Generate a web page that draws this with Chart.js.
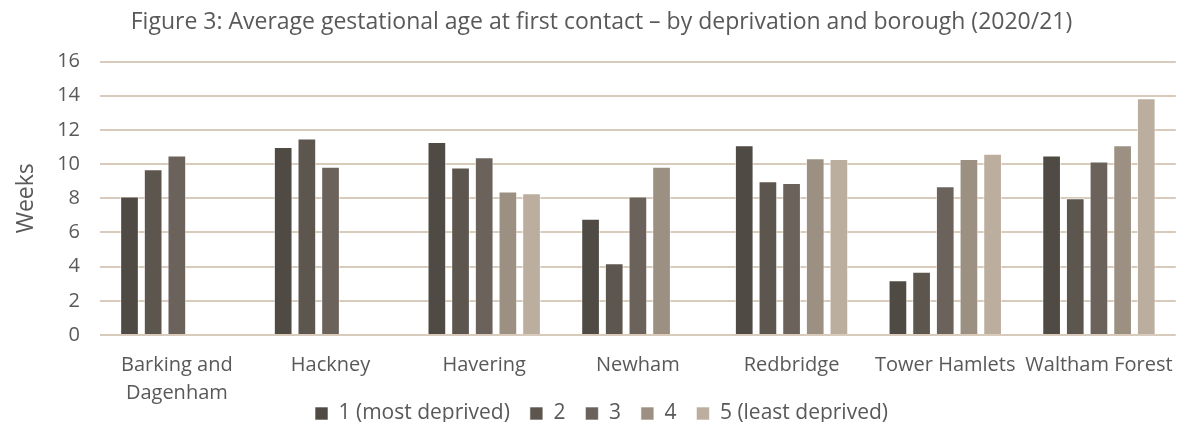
<!DOCTYPE html>
<html>
<head>
<meta charset="utf-8">
<script src="https://cdn.jsdelivr.net/npm/chart.js@4/dist/chart.umd.min.js"></script>
<style>
  html, body { margin: 0; padding: 0; background: #fff; }
  #wrap { width: 1189px; height: 422px; }
</style>
</head>
<body>
<div id="wrap"><canvas id="chart"></canvas></div>
<script>
// Boroughs along the x axis
const boroughs = [
  ['Barking and', 'Dagenham'], 'Hackney', 'Havering', 'Newham',
  'Redbridge', 'Tower Hamlets', 'Waltham Forest'
];

// Average gestational age (weeks) by deprivation quintile
const quintile1 = [8.1, 11.0, 11.3, 6.8, 11.1, 3.2, 10.5];
const quintile2 = [9.7, 11.5, 9.8, 4.2, 9.0, 3.7, 8.0];
const quintile3 = [10.5, 9.85, 10.4, 8.1, 8.9, 8.7, 10.15];
const quintile4 = [null, null, 8.4, 9.85, 10.35, 10.3, 11.1];
const quintile5 = [null, null, 8.3, null, 10.3, 10.6, 13.85];

const seriesNames = ['1 (most deprived)', '2', '3', '4', '5 (least deprived)'];
const seriesColors = ['#4f4a43', '#5d564f', '#6b625b', '#9c9083', '#bcae9e'];
const yTicks = [0, 2, 4, 6, 8, 10, 12, 14, 16];

const textColor = '#595959';
const fontFamily = "'Open Sans', 'Noto Sans', sans-serif";

const allSeries = [quintile1, quintile2, quintile3, quintile4, quintile5];
const datasets = allSeries.map(function (values, i) {
  return {
    label: seriesNames[i],
    data: values,
    backgroundColor: seriesColors[i],
    borderColor: 'rgba(255,255,255,0.6)',
    borderWidth: 1,
    barPercentage: 0.79,
    categoryPercentage: 0.77
  };
});

const ctx = document.getElementById('chart').getContext('2d');
new Chart(ctx, {
  type: 'bar',
  data: { labels: boroughs, datasets: datasets },
  options: {
    responsive: true,
    maintainAspectRatio: false,
    animation: false,
    layout: { padding: { left: 20, right: 6, top: 0, bottom: -12 } },
    plugins: {
      title: {
        display: true,
        text: 'Figure 3: Average gestational age at first contact \u2013 by deprivation and borough (2020/21)',
        color: textColor,
        font: { family: fontFamily, size: 23, weight: 'normal' },
        padding: { top: 9, bottom: 25 }
      },
      legend: {
        position: 'bottom',
        labels: {
          color: textColor,
          font: { family: fontFamily, size: 21 },
          boxWidth: 13,
          boxHeight: 13,
          padding: 20
        }
      },
      tooltip: { enabled: false }
    },
    scales: {
      x: {
        afterFit: function (scale) {
          scale.height = 48;
          // let the two-line label run below the shortened axis box
          scale._computeLabelArea = function () { return undefined; };
        },
        grid: { display: false, drawTicks: false },
        border: { display: false },
        ticks: {
          color: textColor,
          font: { family: fontFamily, size: 20, lineHeight: 1.4 },
          maxRotation: 0,
          autoSkip: false,
          padding: 16
        }
      },
      y: {
        min: 0,
        max: 16,
        afterBuildTicks: function (scale) {
          scale.ticks = yTicks.map(function (v) { return { value: v }; });
        },
        afterFit: function (scale) { scale.width = 80; },
        grid: { color: '#d9cbbb', lineWidth: 2, drawTicks: false },
        border: { display: false },
        ticks: {
          color: textColor,
          font: { family: fontFamily, size: 20 },
          padding: 20
        },
        title: {
          display: true,
          text: 'Weeks',
          color: textColor,
          font: { family: fontFamily, size: 23 },
          padding: { top: -7, bottom: 0 }
        }
      }
    }
  }
});
</script>
</body>
</html>
